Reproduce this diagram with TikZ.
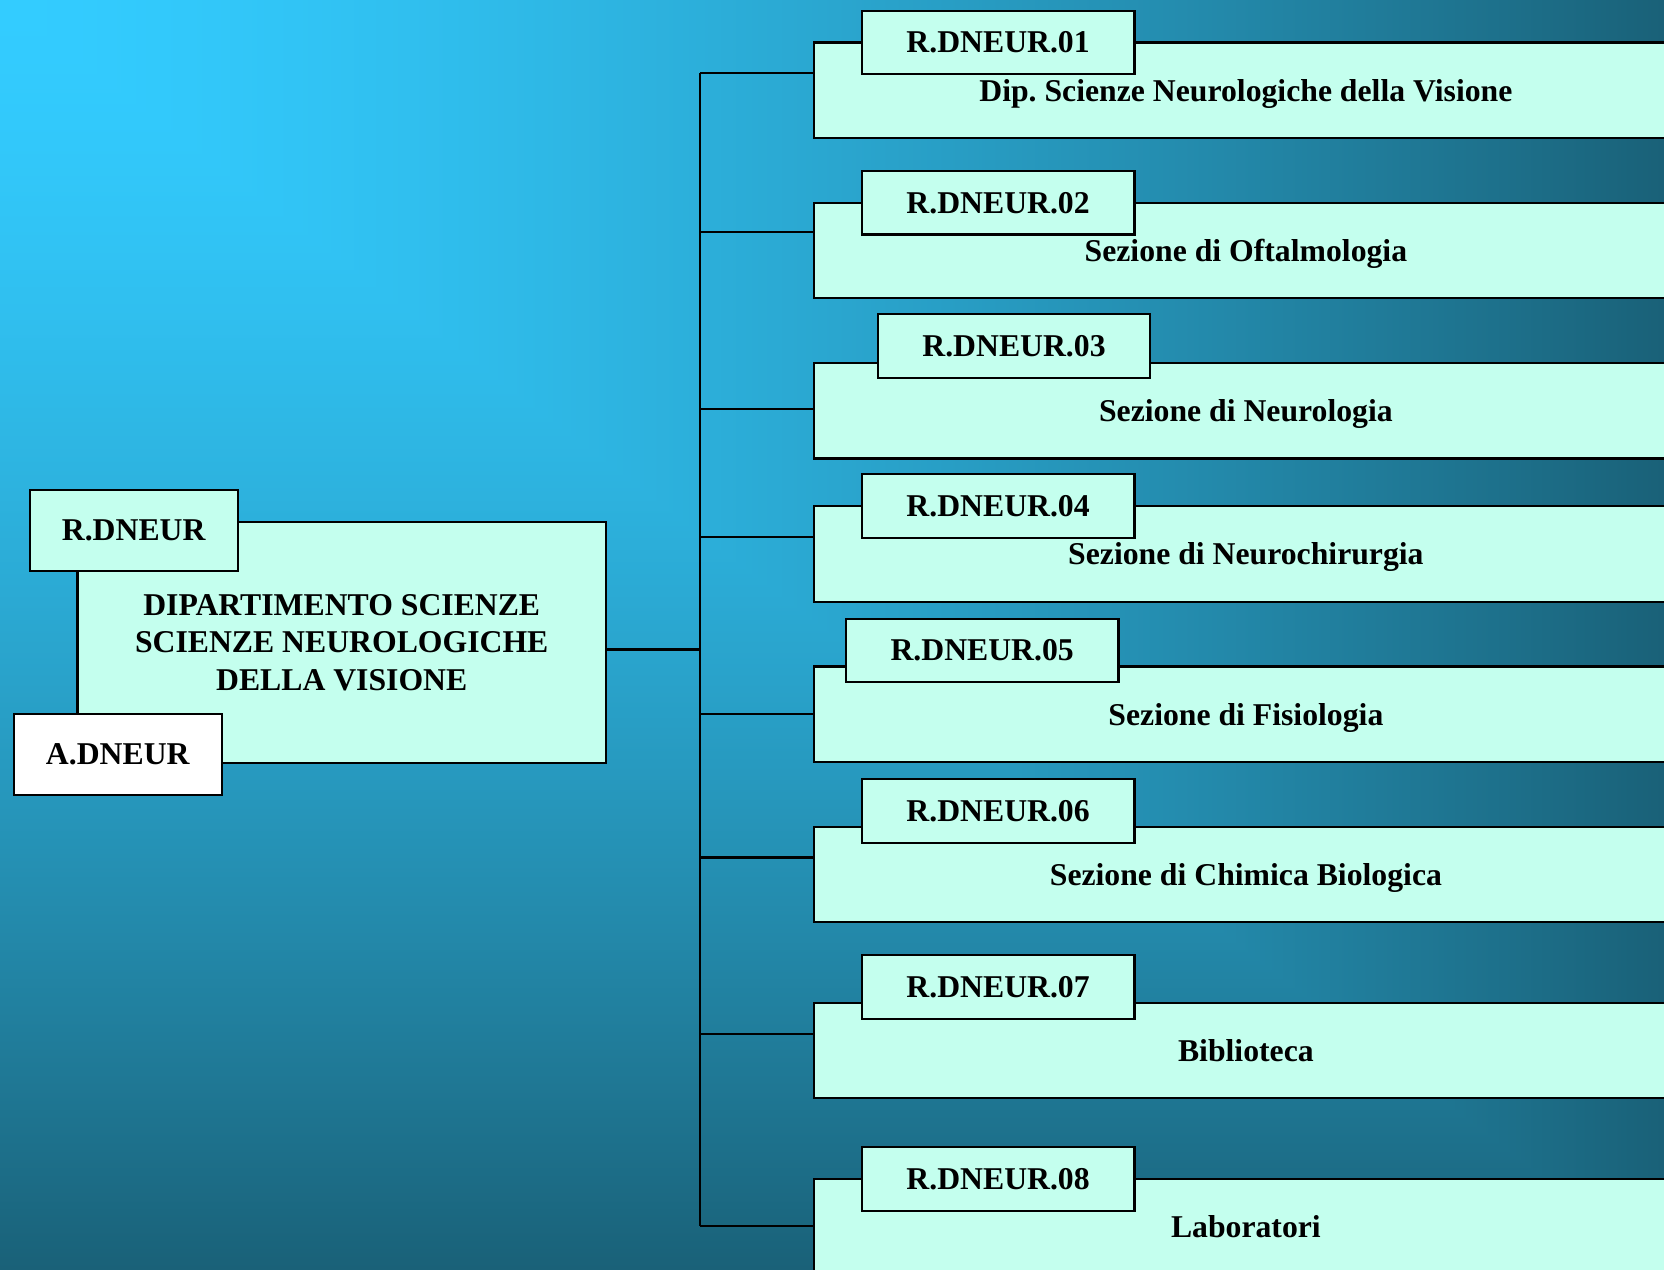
\documentclass[tikz,border=0pt]{standalone}
\usepackage{fontspec}
\setmainfont{Liberation Serif}
\frenchspacing
\definecolor{mint}{HTML}{C4FFEE}
% Background: bright cyan in the top-left corner, darkening towards the
% bottom and the right edge (rectangular "from corner" gradient).
\pgfdeclarefunctionalshading{cornerglow}{\pgfpoint{0bp}{0bp}}{\pgfpoint{784bp}{598bp}}{}{
  598 exch sub 598 div exch 784 div
  2 copy lt {exch} if pop
  dup sqrt mul
  dup -0.10 mul 0.20 add exch
  dup -0.42 mul 0.80 add exch
  -0.53 mul 1.00 add
}
\begin{document}
\begin{tikzpicture}[x=0.5bp,y=-0.5bp,
  boxbase/.style={draw=black, line width=1bp, rectangle, inner sep=0pt,
    anchor=north west, align=center,
    font=\fontsize{15}{17.75}\selectfont\bfseries},
  unit/.style={boxbase, fill=mint, minimum width=407bp, minimum height=45bp,
    text depth=0pt},
  tag/.style={boxbase, fill=mint, minimum width=128.5bp, minimum height=30bp},
  head/.style={boxbase, fill=mint, minimum width=249bp, minimum height=113.5bp},
  badge/.style={boxbase, fill=mint, minimum width=98bp, minimum height=38bp},
  link/.style={draw=black, line width=1bp}]
\useasboundingbox (0,0) rectangle (1568,1196);
\clip (0,0) rectangle (1568,1196);
\node[inner sep=0pt, outer sep=0pt, anchor=north west] (bg) at (0,0) {\pgfuseshading{cornerglow}};

% trunk junctions
\coordinate (jm) at (660,612);
\coordinate (j1) at (660,69);
\coordinate (j2) at (660,219);
\coordinate (j3) at (660,385);
\coordinate (j4) at (660,506);
\coordinate (j5) at (660,673);
\coordinate (j6) at (660,808);
\coordinate (j7) at (660,974);
\coordinate (j8) at (660,1155);

% department
\node[head] (dept) at (72,491) {DIPARTIMENTO SCIENZE\\SCIENZE NEUROLOGICHE\\DELLA VISIONE};
\node[badge] (rdneur) at (27,461) {R.DNEUR};
\node[badge, fill=white] (adneur) at (12,672) {A.DNEUR};

% units
\node[unit] (u1) at (766,39)   {Dip. Scienze Neurologiche della Visione};
\node[tag]  (t1) at (811,9)    {R.DNEUR.01};
\node[unit] (u2) at (766,190)  {Sezione di Oftalmologia};
\node[tag]  (t2) at (811,160)  {R.DNEUR.02};
\node[unit] (u3) at (766,341)  {Sezione di Neurologia};
\node[tag]  (t3) at (826,295)  {R.DNEUR.03};
\node[unit] (u4) at (766,476)  {Sezione di Neurochirurgia};
\node[tag]  (t4) at (811,446)  {R.DNEUR.04};
\node[unit] (u5) at (766,627)  {Sezione di Fisiologia};
\node[tag]  (t5) at (796,582)  {R.DNEUR.05};
\node[unit] (u6) at (766,778)  {Sezione di Chimica Biologica};
\node[tag]  (t6) at (811,733)  {R.DNEUR.06};
\node[unit] (u7) at (766,944)  {Biblioteca};
\node[tag]  (t7) at (811,899)  {R.DNEUR.07};
\node[unit] (u8) at (766,1110) {Laboratori};
\node[tag]  (t8) at (811,1080) {R.DNEUR.08};

% connectors
\draw[link] (dept.east |- jm) -- (jm);
\draw[link] (j1) -- (j8);
\foreach \i in {1,...,8} {
  \draw[link] (j\i) -- (j\i -| u\i.west);
}
\end{tikzpicture}
\end{document}
